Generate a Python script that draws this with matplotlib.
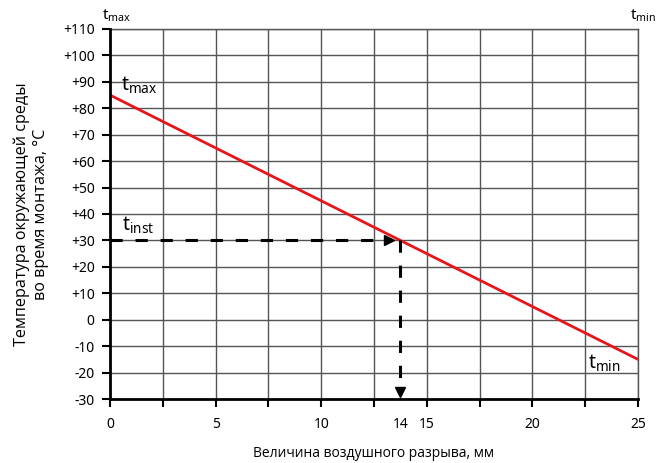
import matplotlib.pyplot as plt
import numpy as np

plt.rcParams['mathtext.fontset'] = 'custom'
plt.rcParams['mathtext.rm'] = 'Noto Sans'

# data
gapMm = [0, 25]
tempC = [85, -15]
instGap = 13.75
instTemp = 30
yTicks = list(range(-30, 111, 10))
yTickLabels = [("+%d" % v if v > 0 else "%d" % v) for v in yTicks]
xTickLabelPos = [0, 5, 10, 13.75, 15, 20, 25]
xTickLabels = ["0", "5", "10", "14", "15", "20", "25"]

fig = plt.figure(figsize=(6.63, 4.63), dpi=100)
ax = fig.add_axes([0.1659, 0.1382, 0.7964, 0.7992])
ax.set_xlim(0, 25)
ax.set_ylim(-30, 110)

gridColor = "#555555"
for gx in np.arange(2.5, 25.1, 2.5):
    ax.axvline(gx, color=gridColor, lw=1, zorder=1)
for gy in yTicks[1:]:
    ax.axhline(gy, color=gridColor, lw=1, zorder=1)

ax.plot(gapMm, tempC, color="#e8141c", lw=2, zorder=3)

# dashed construction lines
ax.plot([0, instGap - 0.5], [instTemp, instTemp], color="black", lw=2.2,
        dashes=(4, 4.2), zorder=4)
ax.plot([instGap - 0.55], [instTemp], marker=">", color="black", ms=6.5, zorder=4)
ax.plot([instGap, instGap], [instTemp, -26], color="black", lw=2.2,
        dashes=(4, 4.2), zorder=4)
ax.plot([instGap], [-27.3], marker="v", color="black", ms=6.5, zorder=4)

for side in ["top", "right"]:
    ax.spines[side].set_color(gridColor)
    ax.spines[side].set_linewidth(1)
for side in ["left", "bottom"]:
    ax.spines[side].set_color("black")
    ax.spines[side].set_linewidth(2)
    ax.spines[side].set_zorder(5)

ax.set_yticks(yTicks)
ax.set_yticklabels(yTickLabels, family="Noto Sans", fontsize=10)
ax.set_xticks(np.arange(0, 25.1, 2.5))
ax.set_xticklabels([])
ax.tick_params(axis="both", direction="out", length=6, width=1.5, color="black")
ax.tick_params(axis="y", pad=5)
for xp, xl in zip(xTickLabelPos, xTickLabels):
    ax.text(xp, -36.8, xl, ha="center", va="top", family="Noto Sans", fontsize=10)

ax.set_xlabel("Величина воздушного разрыва, мм", family="Open Sans",
              fontsize=10, labelpad=24)
ax.set_ylabel("Температура окружающей среды\nво время монтажа, °C",
              family="Open Sans", fontsize=11.6, labelpad=10, linespacing=1.3)

# annotations
ax.text(0.5, 84.5, r"$\mathrm{t_{max}}$", fontsize=14, ha="left", va="bottom", zorder=6)
ax.text(0.55, 31.5, r"$\mathrm{t_{inst}}$", fontsize=14, ha="left", va="bottom", zorder=6)
ax.text(22.65, -20.5, r"$\mathrm{t_{min}}$", fontsize=14, ha="left", va="bottom", zorder=6)
ax.text(-0.4, 112, r"$\mathrm{t_{max}}$", fontsize=11, ha="left", va="bottom")
ax.text(24.6, 112, r"$\mathrm{t_{min}}$", fontsize=11, ha="left", va="bottom")

fig.savefig("out.png", dpi=100)
